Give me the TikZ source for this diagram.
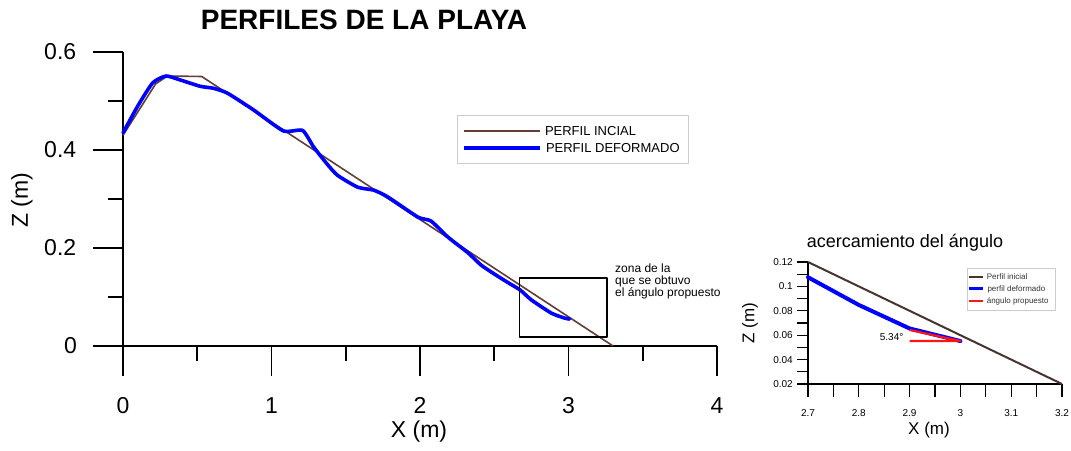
\documentclass[tikz,border=0pt]{standalone}
\usepackage{fontspec}
\setmainfont{Liberation Sans}
\usepackage{tikz}
\usetikzlibrary{
  positioning,
  arrows.meta
}
\usepackage{xcolor}
\definecolor{cafe}{RGB}{98,62,52}
\definecolor{cafeosc}{RGB}{72,52,46}
\definecolor{azul}{RGB}{0,0,255}
\definecolor{rojo}{RGB}{255,20,20}

\tikzset{
  eje/.style={line width=1.6pt},
  perfilini/.style={cafe,line width=1.6pt},
  perfildef/.style={azul,line width=3.6pt,line join=round,line cap=round},
  etiq/.style={inner sep=0pt,font=\fontsize{23}{25}\selectfont},
  etiqchica/.style={inner sep=0pt,font=\fontsize{10}{12}\selectfont},
  leytxt/.style={right=4pt,inner sep=0pt,text=black,font=\fontsize{13}{15}\selectfont},
  leytxtchica/.style={right=3pt,inner sep=0pt,text=black!80,font=\fontsize{8}{9}\selectfont}
}

\begin{document}
\begin{tikzpicture}[x=1pt,y=1pt,line join=round]
    \useasboundingbox (0,0) rectangle (1071,450);
    \node[font=\bfseries\fontsize{28}{30}\selectfont] (titulo) at (364,430) {PERFILES DE LA PLAYA};

    % perfil completo
    \begin{scope}[shift={(123pt,104pt)},x=148.5pt,y=490pt]
        \draw[eje] (-30pt,0) -- (4,0);
        \draw[eje] (0,0) -- (0,0.6);
        \foreach \x in {0,...,4}
            \draw[eje] (\x,0) -- ++(0,-30pt) node[etiq,below=21pt] (xlab\x) {\x};
        \foreach \x in {0.5,1.5,2.5,3.5}
            \draw[eje] (\x,0) -- ++(0,-15pt);
        \foreach \y/\lab [count=\i] in {0.2/0.2,0.4/0.4,0.6/0.6}
            \draw[eje] (0,\y) -- ++(-30pt,0) node[etiq,left=16pt] (zlab\i) {\lab};
        \node[etiq,anchor=east] (zlab0) at ([xshift=-46pt]0,0) {0};
        \foreach \y in {0.1,0.3,0.5}
            \draw[eje] (0,\y) -- ++(-15pt,0);

        \draw[perfilini] plot coordinates {(0,0.43) (0.22,0.535) (0.3,0.551) (0.53,0.55) (3.3,0)};
        \draw[perfildef] plot[smooth,tension=0.35] coordinates {(0,0.435) (0.1,0.49) (0.2,0.537) (0.29,0.551)
            (0.385,0.543) (0.52,0.53) (0.608,0.526) (0.703,0.516) (0.878,0.482) (1.08,0.439)
            (1.209,0.44) (1.284,0.406) (1.378,0.37) (1.446,0.348) (1.581,0.324) (1.689,0.318)
            (1.784,0.304) (1.986,0.263) (2.074,0.255) (2.189,0.222) (2.324,0.19) (2.412,0.165)
            (2.5,0.147) (2.6,0.128) (2.676,0.114) (2.75,0.094) (2.885,0.067) (2.973,0.057) (3.007,0.055)};

        \draw[line width=1.8pt] (2.67,0.018) rectangle (3.26,0.139);
    \end{scope}
    \node[etiq] (ejex) at (419,18) {X (m)};
    \node[etiq,rotate=90] (ejez) at (22,250) {Z (m)};
    \node[anchor=north west,align=left,inner sep=0pt,font=\fontsize{12}{12}\selectfont] (notazona) at (615,186)
        {zona de la\\que se obtuvo\\el ángulo propuesto};

    % leyenda
    \node[draw=gray!40,line width=0.8pt,minimum width=231pt,minimum height=48pt] (leyenda) at (572.5,311) {};
    \draw[perfilini,line width=2pt] (464,319) -- (540,319) node[leytxt] (leyini) {PERFIL INCIAL};
    \draw[azul,line width=4pt] (464,302) -- (540,302) node[leytxt] (leydef) {PERFIL DEFORMADO};

    % acercamiento
    \node[font=\fontsize{18}{20}\selectfont] (titulo2) at (905,207) {acercamiento del ángulo};
    \begin{scope}[shift={(-563.6pt,41.6pt)},x=508pt,y=1220pt]
        \draw[eje] (2.7,0.12) -- (2.7,0.02) -- (3.2,0.02);
        \foreach \i in {2,...,12}
            \draw[line width=1.3pt] (2.7,{\i/100}) -- ++(-11pt,0);
        \foreach \i in {0,...,10}
            \draw[line width=1.3pt] ({2.7+\i*0.05},0.02) -- ++(0,-13pt);
        \foreach \y/\lab [count=\i] in {0.02/0.02,0.04/0.04,0.06/0.06,0.08/0.08,0.1/0.1,0.12/0.12}
            \node[etiqchica,anchor=east] (zz\i) at ([xshift=-15pt]2.7,\y) {\lab};
        \foreach \x/\lab [count=\i] in {2.7/2.7,2.8/2.8,2.9/2.9,3/3,3.1/3.1,3.2/3.2}
            \node[etiqchica,anchor=north] (xx\i) at ([yshift=-25pt]\x,0.02) {\lab};

        \draw[cafeosc,line width=2pt] (2.7,0.12) -- (3.2,0.02);
        \draw[azul,line width=4pt,line cap=round] (2.7,0.1075) -- (2.8,0.0848) -- (2.9,0.0655) -- (3.0,0.0552);
        \draw[rojo,line width=2.2pt] (2.9,0.0643) -- (3.0,0.0552) -- (2.9,0.0552);
        \node[etiqchica,anchor=east] (angulo) at (2.888,0.0585) {5.34°};
    \end{scope}
    \node[font=\fontsize{17}{19}\selectfont] (ejex2) at (929,20) {X (m)};
    \node[font=\fontsize{17}{19}\selectfont,rotate=90] (ejez2) at (750,127) {Z (m)};

    % leyenda chica
    \node[draw=gray!40,line width=0.6pt,minimum width=88pt,minimum height=42pt] (leyenda2) at (1011,161) {};
    \draw[cafeosc,line width=1.8pt] (969,173) -- (983,173) node[leytxtchica] (ley2ini) {Perfil inicial};
    \draw[azul,line width=3pt] (969,161) -- (983,161) node[leytxtchica] (ley2def) {perfil deformado};
    \draw[rojo,line width=1.6pt] (969,149) -- (983,149) node[leytxtchica] (ley2ang) {ángulo propuesto};
\end{tikzpicture}
\end{document}
